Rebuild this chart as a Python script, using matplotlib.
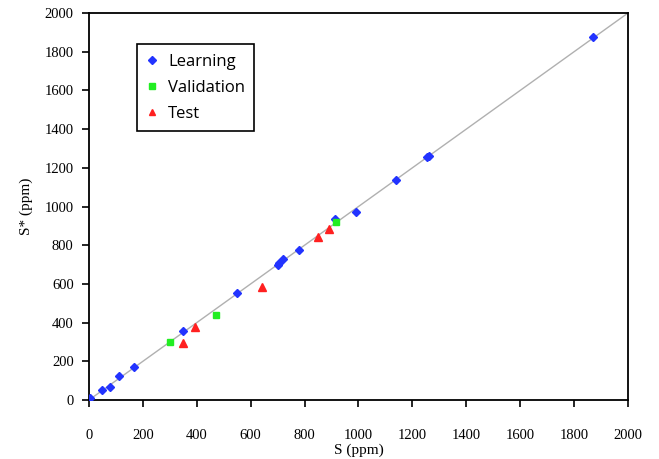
import matplotlib
matplotlib.use("Agg")
import matplotlib.pyplot as plt

# values (S, S*)
learn_s = [4, 48, 78, 111, 167, 349, 549, 700, 704, 721, 779, 913, 991, 1140, 1253, 1260, 1870]
learn_p = [10, 52, 67, 124, 170, 357, 553, 698, 707, 729, 775, 935, 970, 1137, 1254, 1261, 1875]

val_s = [299, 470, 918]
val_p = [298, 441, 922]

test_s = [350, 392, 641, 849, 890]
test_p = [293, 376, 586, 841, 882]

ticks = list(range(0, 2001, 200))

fig = plt.figure(figsize=(6.59, 4.59), dpi=100)
ax = fig.add_axes([0.135, 0.1285, 0.818, 0.8432])

ax.plot([0, 2000], [0, 2000], color="#b0b0b0", lw=1.0, zorder=1)
ax.plot(learn_s, learn_p, ls="none", marker="D", ms=4.5, color="#2233ff",
        label="Learning", zorder=3)
ax.plot(val_s, val_p, ls="none", marker="s", ms=5, color="#22ee22",
        label="Validation", zorder=3)
ax.plot(test_s, test_p, ls="none", marker="^", ms=6, color="#ff2020",
        label="Test", zorder=3)

ax.set_xlim(0, 2000)
ax.set_ylim(0, 2000)
ax.set_xticks(ticks)
ax.set_yticks(ticks)

for side in ax.spines.values():
    side.set_color("black")
    side.set_linewidth(1.3)

ax.tick_params(axis="x", direction="out", length=5, width=1.2, pad=16,
               labelsize=10.5)
ax.tick_params(axis="y", direction="out", length=5, width=1.2, pad=6,
               labelsize=10.5)
for lab in ax.get_xticklabels() + ax.get_yticklabels():
    lab.set_family("Liberation Serif")

ax.set_xlabel("S (ppm)", family="Liberation Serif", fontsize=11, labelpad=1)
ax.set_ylabel("S* (ppm)", family="Liberation Serif", fontsize=11, labelpad=8)

leg = ax.legend(loc="upper left", bbox_to_anchor=(0.0896, 0.919),
                borderaxespad=0, fancybox=False, edgecolor="black",
                framealpha=1, prop={"family": "Open Sans", "size": 12},
                markerscale=0.8, handlelength=0.7, handletextpad=0.6,
                labelspacing=0.6, borderpad=0.55)
leg.get_frame().set_linewidth(1.2)

fig.savefig("out.png", dpi=100)
